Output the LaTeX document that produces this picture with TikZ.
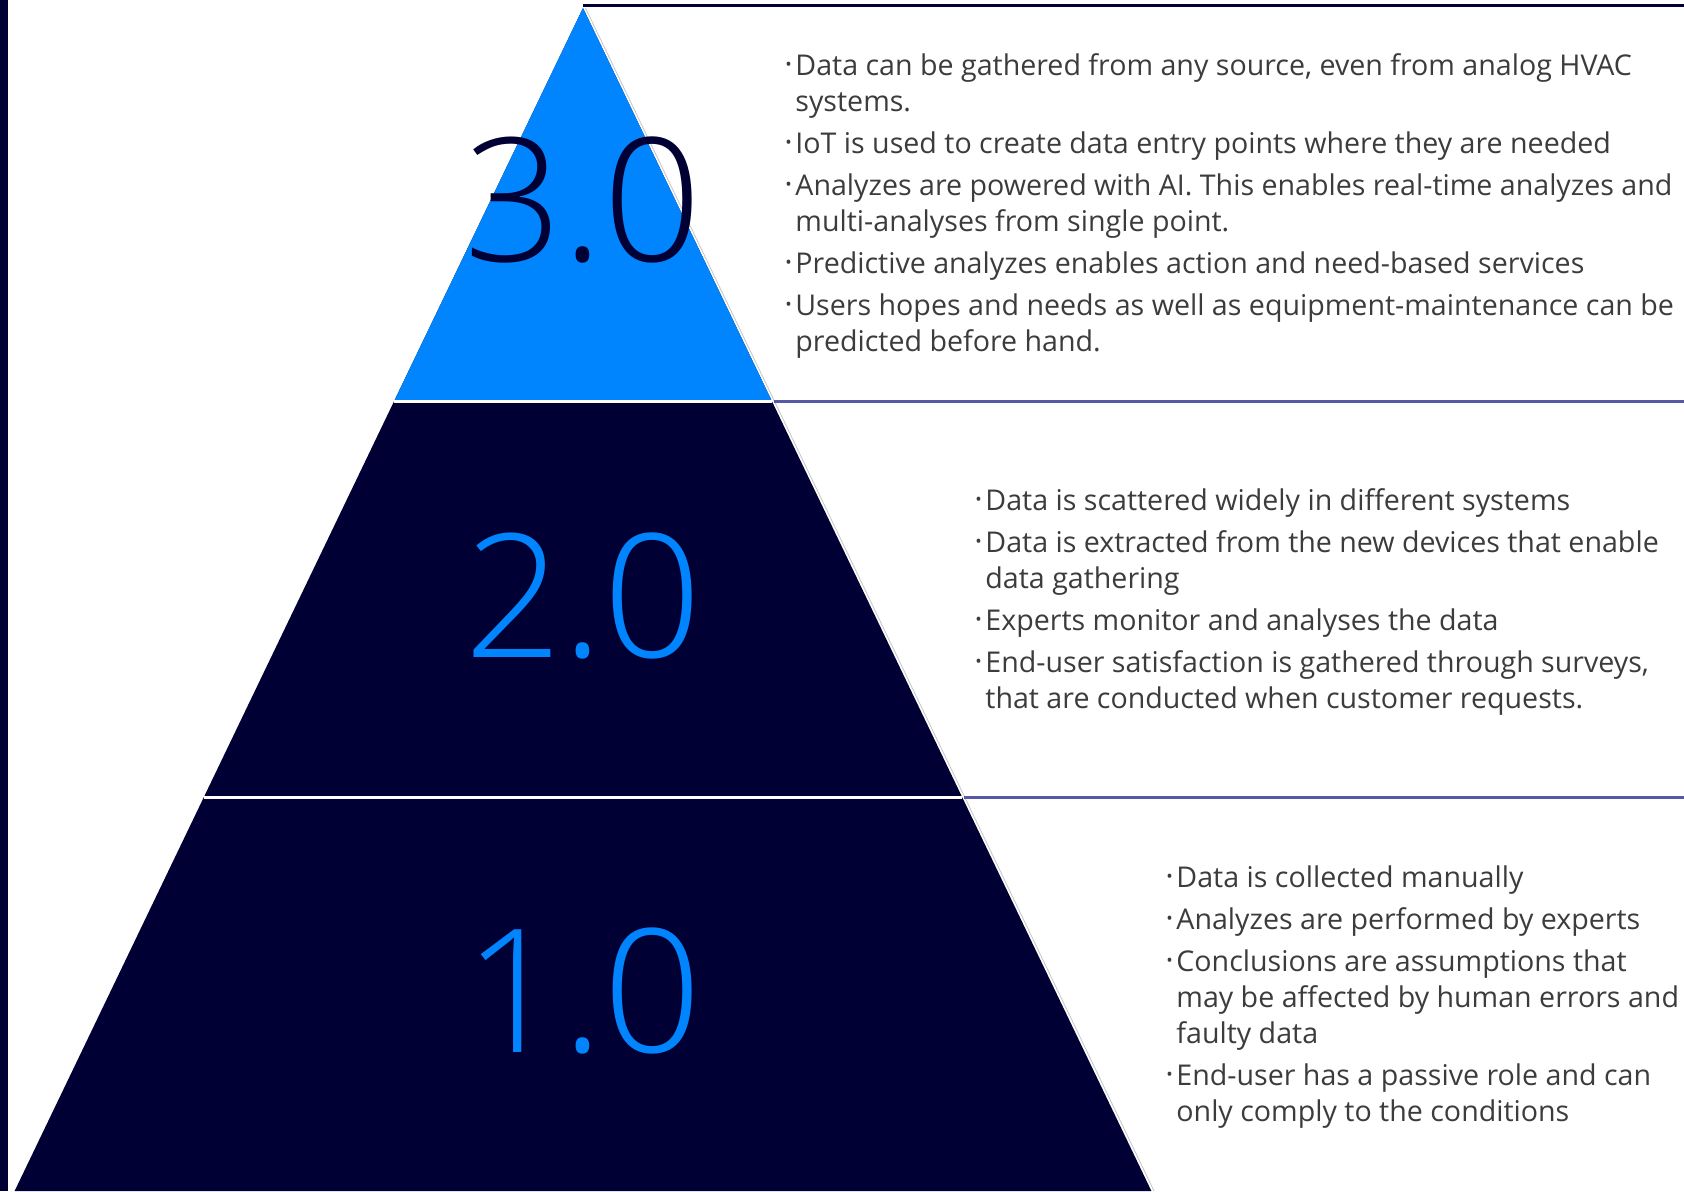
\documentclass[tikz,border=0pt]{standalone}
\usepackage{fontspec}
\setmainfont{Open Sans}
\IfFontExistsTF{Open Sans Light}{\newfontfamily\digitfont{Open Sans Light}}{\IfFontExistsTF{Lato Light}{\newfontfamily\digitfont{Lato Light}}{\newfontfamily\digitfont{Open Sans}}}
\definecolor{navy}{RGB}{0,0,52}
\definecolor{brightblue}{RGB}{0,133,255}
\definecolor{sepline}{RGB}{88,88,168}
\definecolor{txtgray}{RGB}{60,60,60}
\newcommand{\bmark}{\makebox[5pt][l]{\raisebox{0.28ex}{\scalebox{0.6}{\textbullet}}}}
\tikzset{
  digit/.style={font=\digitfont\fontsize{86}{86}\selectfont, inner sep=0pt, anchor=base},
  bodytext/.style={font=\fontsize{14.3}{18}\selectfont, text=txtgray, inner sep=0pt, anchor=base west},
  sep/.style={draw=sepline, line width=1.5pt},
  gap/.style={draw=white, line width=1.5pt}
}
\begin{document}
\begin{tikzpicture}[x=0.5pt,y=-0.5pt]
\useasboundingbox (0,0) rectangle (1684,1191);
\fill[white] (0,0) rectangle (1684,1191);
% left bar
\fill[navy] (0,0) rectangle (7.5,1191);
% pyramid
\coordinate (apex) at (583,8);
\coordinate (bl) at (14.6,1191);
\coordinate (br) at (1151.4,1191);
\coordinate (c1l) at (394.2,401);
\coordinate (c1r) at (771.8,401);
\coordinate (c2l) at (203.9,797);
\coordinate (c2r) at (962.1,797);
\fill[navy] (apex) -- (bl) -- (br) -- cycle;
\fill[brightblue] (apex) -- (c1l) -- (c1r) -- cycle;
\draw[gap] (c1l) -- (c1r);
\draw[gap] (c2l) -- (c2r);
% hairline on the right edge
\draw[gray!45, line width=0.4pt] (585.5,8) -- (1154,1191);
% top line and separators
\draw[navy, line width=1.5pt] (583,5.5) -- (1684,5.5);
\draw[sep] (c1r) ++(2,0) -- (1684,401);
\draw[sep] (c2r) ++(2,0) -- (1684,797);
% level numbers
\node[digit, text=navy] (d3) at (583,261) {3.0};
\node[digit, text=brightblue] (d2) at (583,657) {2.0};
\node[digit, text=brightblue] (d1) at (583,1052) {1.0};
% texts
\node[bodytext] (txt3) at (785,75) {\begin{tabular}[t]{@{}l@{}l@{}}
\bmark & Data can be gathered from any source, even from analog HVAC\\
 & systems.\\[3pt]
\bmark & IoT is used to create data entry points where they are needed\\[3pt]
\bmark & Analyzes are powered with AI. This enables real-time analyzes and\\
 & multi-analyses from single point.\\[3pt]
\bmark & Predictive analyzes enables action and need-based services\\[3pt]
\bmark & Users hopes and needs as well as equipment-maintenance can be\\
 & predicted before hand.
\end{tabular}};
\node[bodytext] (txt2) at (975,510) {\begin{tabular}[t]{@{}l@{}l@{}}
\bmark & Data is scattered widely in different systems\\[3pt]
\bmark & Data is extracted from the new devices that enable\\
 & data gathering\\[3pt]
\bmark & Experts monitor and analyses the data\\[3pt]
\bmark & End-user satisfaction is gathered through surveys,\\
 & that are conducted when customer requests.
\end{tabular}};
\node[bodytext] (txt1) at (1166,887) {\begin{tabular}[t]{@{}l@{}l@{}}
\bmark & Data is collected manually\\[3pt]
\bmark & Analyzes are performed by experts\\[3pt]
\bmark & Conclusions are assumptions that\\
 & may be affected by human errors and\\
 & faulty data\\[3pt]
\bmark & End-user has a passive role and can\\
 & only comply to the conditions
\end{tabular}};
\end{tikzpicture}
\end{document}
